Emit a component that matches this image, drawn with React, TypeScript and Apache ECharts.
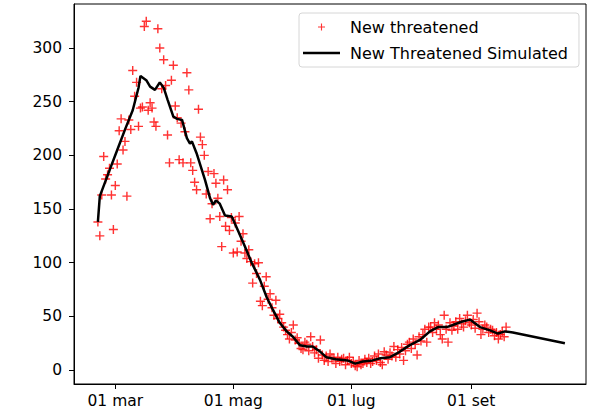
import React, { useEffect, useRef } from "react";
import * as echarts from "echarts";

// Day index: 0 = 01 mar
const tickDays = [0, 61, 122, 184];
const tickLabels = ["01 mar", "01 mag", "01 lug", "01 set"];
const yTicks = [0, 50, 100, 150, 200, 250, 300];

// Observed "New threatened" values, one per day starting at obsStart
const obsStart = -9;
const obsValues = [
  138, 125, 163, 199, 178, 182, 188, 163, 131, 172,
  192, 223, 234, 205, 213, 162, 233, 224, 279, 255,
  268, 227, 244, 245, 320, 325, 242, 249, 244, 231,
  227, 318, 300, 262, 289, 265, 219, 193, 270, 284,
  246, 235, 196, 230, 193, 222, 277, 261, 193, 186,
  175, 168, 243, 217, 210, 200, 164, 185, 141, 155,
  183, 174, 160, 143, 115, 177, 134, 168, 130, 142,
  109, 137, 110, 143, 120, 127, 109, 104, 112, 101,
  81, 99, 90, 100, 64, 60, 78, 87, 66, 71,
  58, 51, 65, 48, 52, 44, 40, 37, 33, 29,
  35, 42, 28, 30, 25, 20, 19, 26, 24, 18,
  31, 22, 16, 19, 11, 28, 14, 9, 13, 8,
  15, 11, 11, 6, 12, 8, 10, 11, 5, 9,
  12, 6, 8, 4, 3, 9, 5, 6, 10, 7,
  11, 6, 8, 13, 9, 15, 7, 5, 17, 14,
  10, 16, 13, 22, 12, 19, 15, 21, 9, 18,
  24, 26, 20, 29, 24, 14, 31, 27, 33, 38,
  26, 40, 40, 35, 44, 38, 42, 33, 29, 51,
  38, 26, 44, 37, 41, 45, 38, 48, 43, 40,
  46, 51, 44, 42, 47, 39, 53, 45, 33, 38,
  42, 40, 35, 38, 37, 32, 35, 29, 33, 36,
  31, 40,
];

// Simulated curve
const simDays = [
  -9, -8, -3, 1, 5, 9, 12, 13, 16, 18, 20.5, 23, 25, 27, 30, 32, 34.5, 37,
  38.6, 39.6, 42, 46.4, 49, 50.5, 52, 54, 56.7, 60.2, 63.4, 67, 70.5, 74.8,
  78.2, 81.5, 85, 88.6, 91.8, 95.5, 99, 102, 106, 109, 114, 120, 124, 128,
  133, 137, 142, 147, 152, 157.5, 162.6, 166.8, 171.3, 174.5, 179, 183.3,
  188.5, 193.7, 197.8, 201.4, 205.5, 232.4,
];
const simValues = [
  138, 162, 186, 205, 224, 242, 263, 274, 270, 264, 261, 268, 263, 252, 236,
  234, 233, 216, 211, 213, 202, 177, 160, 154, 158, 155, 144, 143, 130, 115,
  100, 84, 68, 56, 44, 36, 31, 23, 22, 22, 17, 12, 10, 9, 6, 8, 9, 11, 12,
  17, 23, 28, 36, 40, 40, 42, 45, 47, 40, 37, 34, 36, 35, 25,
];

const plusPath =
  "path://M-0.16,-1 L0.16,-1 L0.16,-0.16 L1,-0.16 L1,0.16 L0.16,0.16 L0.16,1 L-0.16,1 L-0.16,0.16 L-1,0.16 L-1,-0.16 L-0.16,-0.16 Z";
const lineIcon = "path://M0,0 L37,0 L37,2.6 L0,2.6 Z";

export default function App() {
  const ref = useRef<HTMLDivElement>(null);
  useEffect(() => {
    if (!ref.current) return;
    const chart = echarts.init(ref.current, null, { renderer: "svg" });
    const font = "DejaVu Sans";
    chart.setOption({
      animation: false,
      backgroundColor: "#fff",
      textStyle: { fontFamily: font },
      grid: {
        left: 74,
        right: 5,
        top: 4,
        bottom: 31,
        show: true,
        borderColor: "#000",
        borderWidth: 1,
        containLabel: false,
      },
      legend: {
        orient: "vertical",
        left: 299,
        top: 13,
        padding: [6, 11, 6, 4],
        itemGap: 10,
        itemWidth: 37,
        itemHeight: 7,
        borderColor: "#d6d6d6",
        borderWidth: 1,
        borderRadius: 3,
        backgroundColor: "rgba(255,255,255,0.8)",
        textStyle: {
          fontFamily: font,
          fontSize: 16,
          color: "#000",
          lineHeight: 16,
          padding: [0, 0, 0, 5],
        },
        data: [
          { name: "New threatened", icon: plusPath },
          { name: "New Threatened Simulated", icon: lineIcon, itemStyle: { color: "#000" } },
        ],
      },
      xAxis: {
        type: "value",
        min: -21.35,
        max: 243.3,
        splitLine: { show: false },
        axisLine: { show: true, onZero: false, lineStyle: { color: "#000", width: 1 } },
        axisTick: {
          show: true,
          inside: false,
          length: 5,
          customValues: tickDays,
          lineStyle: { color: "#000" },
        },
        axisLabel: {
          customValues: tickDays,
          margin: 9,
          fontSize: 15.5,
          color: "#000",
          fontFamily: font,
          formatter: (v: number) => {
            const i = tickDays.indexOf(v);
            return i >= 0 ? tickLabels[i] : "";
          },
        },
      },
      yAxis: {
        type: "value",
        min: -13,
        max: 341,
        splitLine: { show: false },
        axisLine: { show: true, onZero: false, lineStyle: { color: "#000", width: 1 } },
        axisTick: {
          show: true,
          inside: false,
          length: 5,
          customValues: yTicks,
          lineStyle: { color: "#000" },
        },
        axisLabel: {
          customValues: yTicks,
          margin: 12,
          fontSize: 15.5,
          color: "#000",
          fontFamily: font,
        },
      },
      series: [
        {
          name: "New threatened",
          type: "scatter",
          symbol: plusPath,
          symbolSize: 9,
          itemStyle: { color: "#ff0000" },
          data: obsValues.map((v, i) => [obsStart + i, v]),
          z: 2,
        },
        {
          name: "New Threatened Simulated",
          type: "line",
          showSymbol: false,
          symbol: "none",
          lineStyle: { color: "#000", width: 2.5 },
          itemStyle: { color: "#000" },
          data: simDays.map((d, i) => [d, simValues[i]]),
          z: 3,
        },
      ],
    });
    return () => chart.dispose();
  }, []);
  return (
    <div
      ref={ref}
      style={{ position: "fixed", left: 0, top: 0, width: 591, height: 415 }}
    />
  );
}
